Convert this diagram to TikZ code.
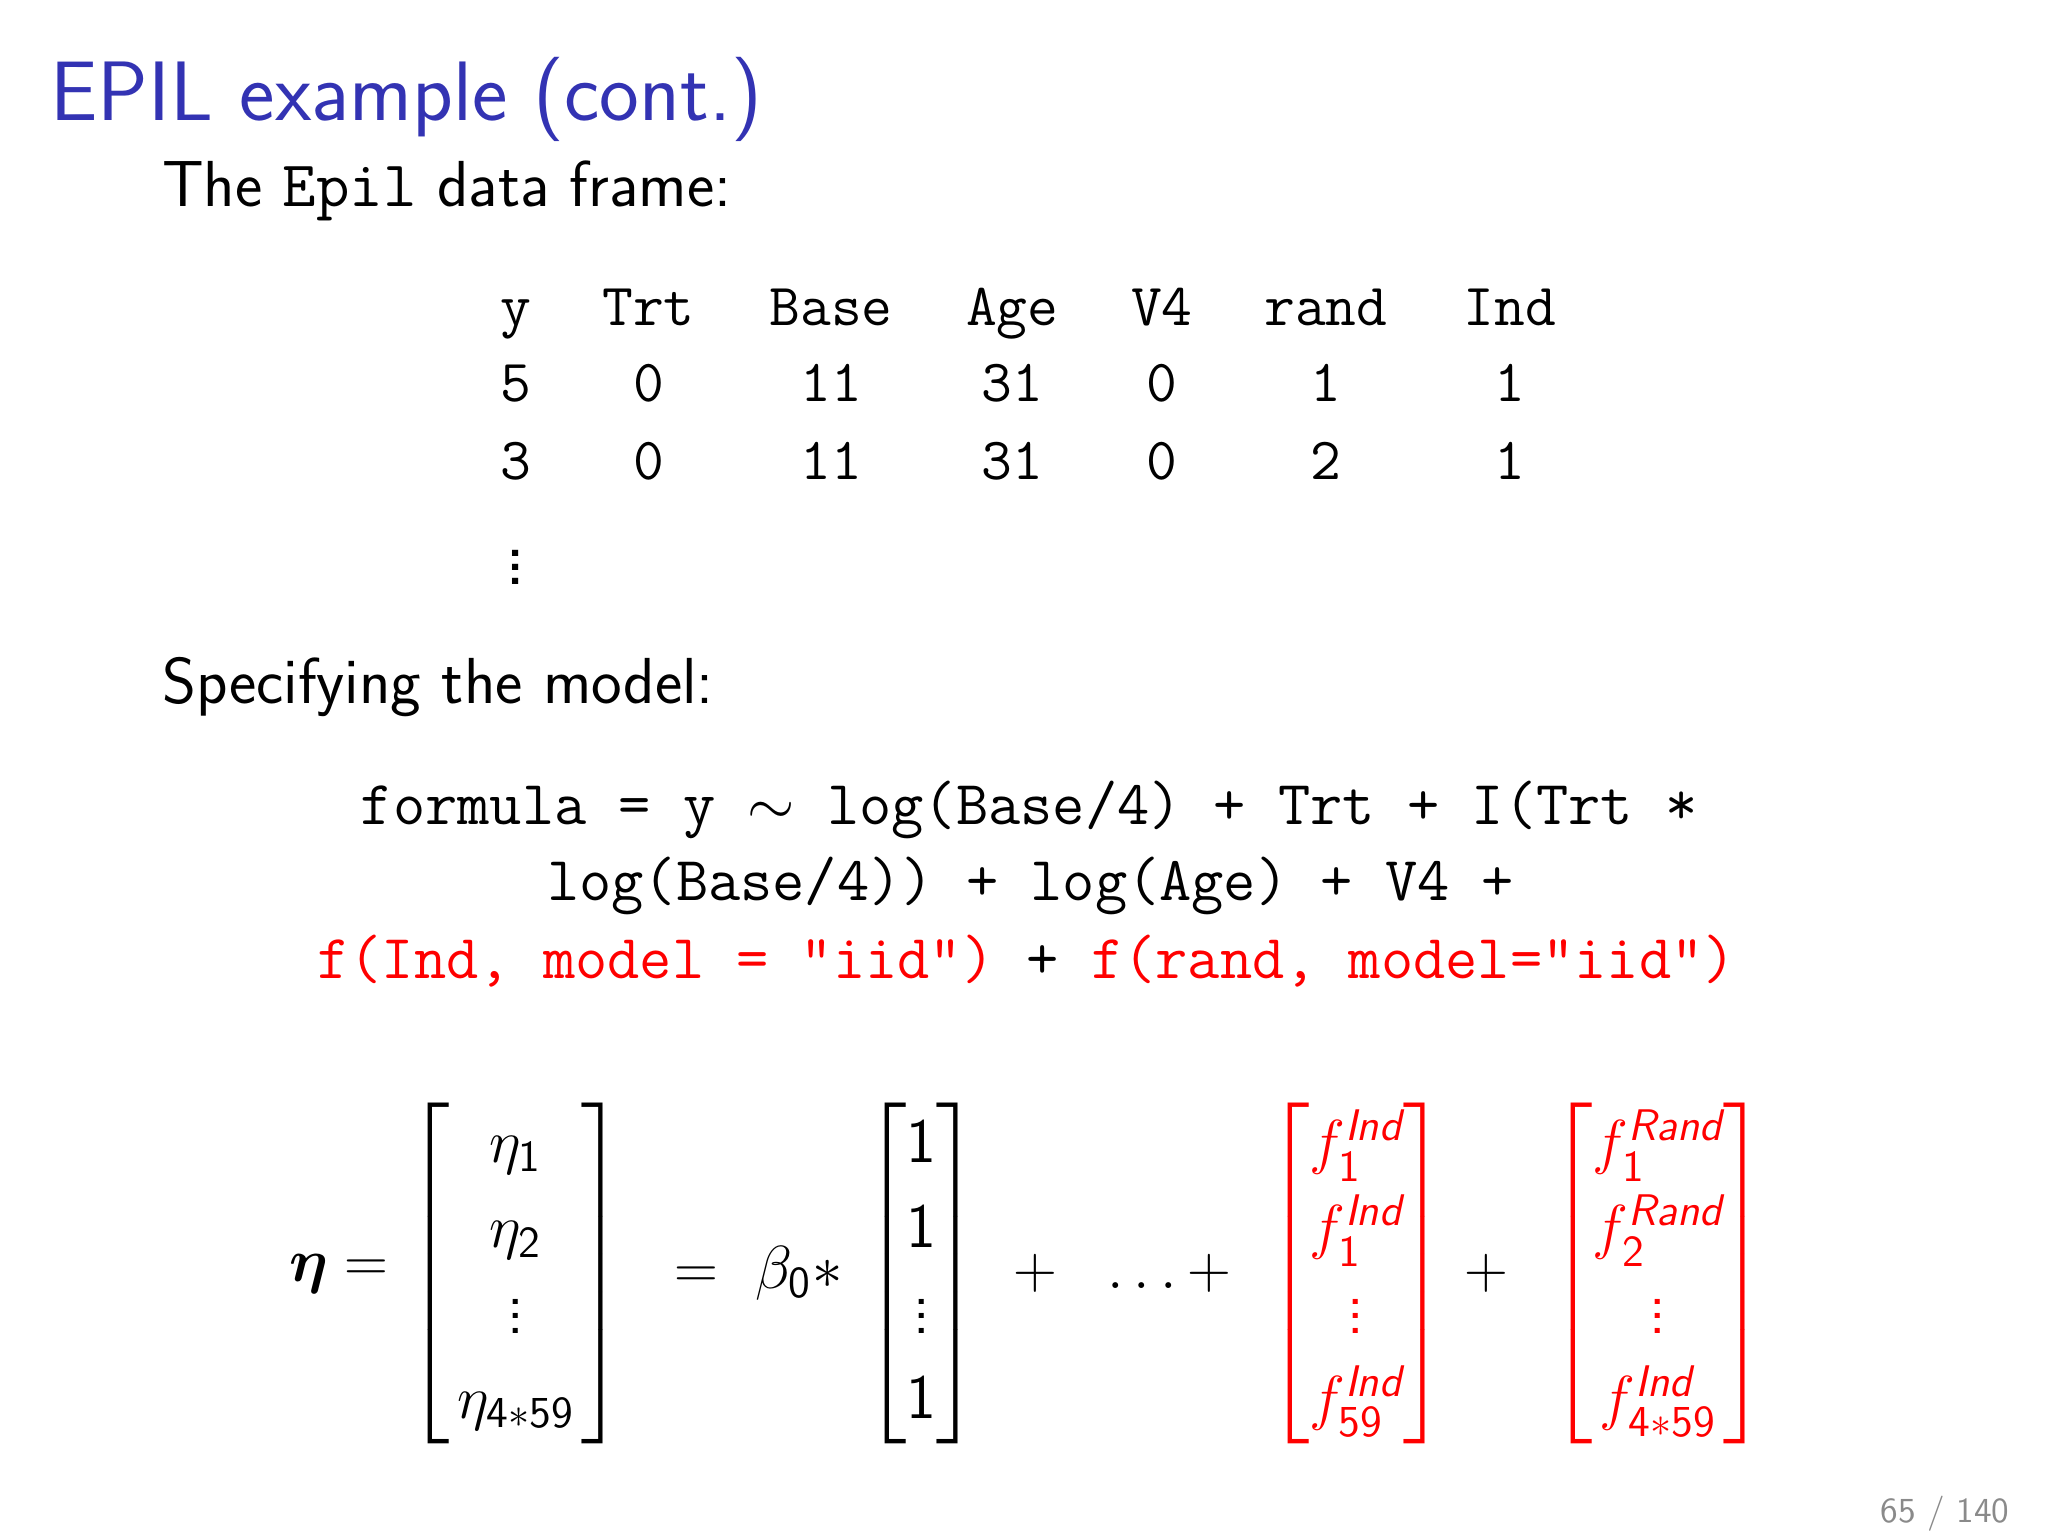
\documentclass[tikz,border=0pt]{standalone}
\usepackage{amsmath, amssymb}
\usepackage{bm}
\usepackage{fontspec}
\usepackage{tikz}
\usetikzlibrary{positioning}
\definecolor{titleblue}{HTML}{3333B3}
\definecolor{pagegray}{HTML}{8A8A8A}
\renewcommand{\familydefault}{\sfdefault}
\newcommand{\sv}[1]{\text{\sffamily #1}}
\newcommand{\si}[1]{\text{\sffamily\itshape #1}}

\begin{document}
\begin{tikzpicture}[
    x=0.01313cm, y=-0.01313cm,
    title/.style={font=\fontsize{24}{29}\selectfont\sffamily, color=titleblue, anchor=base west, inner sep=0pt},
    body/.style={font=\fontsize{18.5}{22}\selectfont\sffamily, anchor=base west, inner sep=0pt},
    cell/.style={font=\fontsize{17}{21}\selectfont\ttfamily, anchor=base},
    code/.style={font=\fontsize{17.8}{21}\selectfont\ttfamily, anchor=base},
    eqn/.style={font=\fontsize{18}{22}\selectfont, anchor=center},
    vec/.style={font=\fontsize{18}{22}\selectfont, anchor=center, inner sep=0pt}
]
\useasboundingbox (0,0) rectangle (1560,1170);

% title and headings
\node[title] (ttl) at (38, 92) {EPIL example (cont.)};
\node[body] (frm) at (123, 157) {The \texttt{Epil} data frame:};
\node[body] (spec) at (123, 536) {Specifying the model:};

% data frame
\foreach \name/\xx/\a/\b in {y/393/5/3, Trt/494/0/0, Base/633/11/11, Age/771/31/31,
                             V4/885/0/0, rand/1010/1/2, Ind/1150/1/1} {
  \node[cell] (h\name) at (\xx, 248) {\name};
  \node[cell] (r\name) at (\xx, 306) {\a};
  \node[cell] (s\name) at (\xx, 365) {\b};
}
\node[cell, font=\fontsize{22}{26}\selectfont] (dots) at (393, 445) {$\vdots$};

% formula
\node[code] (fl1) at (784, 628) {formula = y $\sim$ log(Base/4) + Trt + I(Trt *};
\node[code] (fl2) at (785, 686) {log(Base/4)) + log(Age) + V4 +};
\node[code, color=red] (fl3) at (782, 745) {f(Ind, model = "iid") \textcolor{black}{+} f(rand, model="iid")};

% linear predictor
\node[eqn] (eta) at (258, 970) {$\bm{\eta} =$};
\node[vec] (m1) at (393, 970) {$\renewcommand{\arraystretch}{1.1}\begin{bmatrix}\ \ \eta_{\sv{1}}\ \ \\ \eta_{\sv{2}} \\ \vdots \\ \eta_{\sv{4}*\sv{59}}\end{bmatrix}$};
\node[eqn] (b0) at (578, 970) {$= \ \beta_{\sv{0}} *$};
\node[vec] (m2) at (702, 970) {$\renewcommand{\arraystretch}{1.1}\begin{bmatrix}\sv{1} \\ \sv{1} \\ \vdots \\ \sv{1}\end{bmatrix}$};
\node[eqn] (dd) at (855, 970) {$+\ \ \ldots +$};
\node[vec, color=red] (m3) at (1033, 970) {$\renewcommand{\arraystretch}{1.1}\begin{bmatrix}f_{\sv{1}}^{\si{Ind}} \\ f_{\sv{1}}^{\si{Ind}} \\ \vdots \\ f_{\sv{59}}^{\si{Ind}}\end{bmatrix}$};
\node[eqn] (pl) at (1132, 970) {$+$};
\node[vec, color=red] (m4) at (1263, 970) {$\renewcommand{\arraystretch}{1.1}\begin{bmatrix}f_{\sv{1}}^{\si{Rand}} \\ f_{\sv{2}}^{\si{Rand}} \\ \vdots \\ f_{\sv{4}*\sv{59}}^{\si{Ind}}\end{bmatrix}$};

% page number
\node[font=\fontsize{10}{12}\selectfont\sffamily, color=pagegray, anchor=base east] (pg) at (1540, 1160) {65 / 140};
\end{tikzpicture}
\end{document}
